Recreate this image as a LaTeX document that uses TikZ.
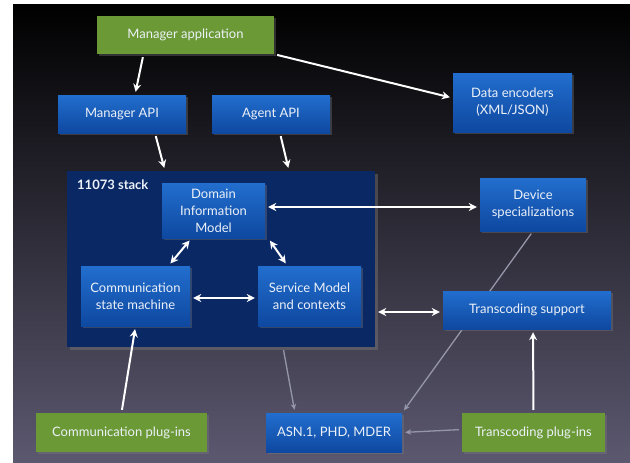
\documentclass[tikz,border=0pt]{standalone}
\usepackage{fontspec}
\setmainfont{Lato}
\usetikzlibrary{arrows.meta,backgrounds,shadows}

\definecolor{appgreen}{RGB}{107,153,54}
\definecolor{boxtop}{RGB}{34,110,206}
\definecolor{boxbot}{RGB}{14,72,160}
\definecolor{stackblue}{RGB}{10,40,100}
\definecolor{slidemid}{RGB}{20,20,44}
\definecolor{slidebot}{RGB}{92,88,112}
\definecolor{greyline}{RGB}{150,150,170}
\definecolor{labelwhite}{RGB}{236,241,248}

\tikzset{
  box/.style = {rectangle, text = labelwhite, align = center, inner sep = 0pt,
    font = \fontsize{13}{17}\selectfont, drop shadow = {opacity = 0.35, shadow xshift = 1.5pt, shadow yshift = -1.5pt}},
  bluebox/.style = {box, top color = boxtop, bottom color = boxbot},
  greenbox/.style = {box, fill = appgreen},
  stackbox/.style = {rectangle, fill = stackblue, drop shadow = {opacity = 0.4}},
  arr/.style = {white, line width = 2pt, -{Stealth[length = 8pt, width = 8pt]}, shorten < = 3pt, shorten > = 3pt},
  dblarr/.style = {arr, {Stealth[length = 8pt, width = 8pt]}-{Stealth[length = 8pt, width = 8pt]}},
  greyarr/.style = {greyline, line width = 1.3pt, -{Stealth[length = 6pt, width = 5.5pt]}, shorten < = 3pt, shorten > = 3pt}
}

\begin{document}
\begin{tikzpicture}[x = 1pt, y = -1pt]
  \begin{pgfonlayer}{background}
    \fill [white] (0, 0) rectangle (630, 463);
    \shade [top color = black, middle color = slidemid, bottom color = slidebot] (13, 4) rectangle (630, 463);
  \end{pgfonlayer}

  % the stack and what sits in it
  \node [stackbox, minimum width = 308, minimum height = 176] (stack) at (221, 259) {};
  \node [anchor = north west, text = labelwhite, inner sep = 0pt, font = \fontsize{13}{15}\selectfont\bfseries] (stacklabel) at (77, 180) {11073 stack};
  \node [bluebox, minimum width = 103, minimum height = 55] (dim) at (213.5, 210.5) {Domain\\Information\\Model};
  \node [bluebox, minimum width = 109, minimum height = 60] (csm) at (135.5, 296) {Communication\\state machine};
  \node [bluebox, minimum width = 103, minimum height = 60] (smc) at (309.5, 296) {Service Model\\and contexts};

  \node [greenbox, minimum width = 177, minimum height = 38] (mapp) at (185.5, 35) {Manager application};
  \node [bluebox, minimum width = 128, minimum height = 38] (mapi) at (122, 114) {Manager API};
  \node [bluebox, minimum width = 118, minimum height = 38] (aapi) at (271, 114) {Agent API};
  \node [bluebox, minimum width = 119, minimum height = 59] (enc) at (512.5, 102.5) {Data encoders\\(XML/JSON)};
  \node [bluebox, minimum width = 106, minimum height = 53] (dev) at (533, 204.5) {Device\\specializations};
  \node [bluebox, minimum width = 168, minimum height = 38] (tsup) at (527, 310) {Transcoding support};

  \node [greenbox, minimum width = 171, minimum height = 39] (cpl) at (121.5, 432.5) {Communication plug-ins};
  \node [bluebox, minimum width = 136, minimum height = 39] (asn) at (334, 432.5) {ASN.1, PHD, MDER};
  \node [greenbox, minimum width = 143, minimum height = 39] (tpl) at (533.5, 432.5) {Transcoding plug-ins};

  \draw [arr] ([xshift = -42]mapp.south) -- ([xshift = 13]mapi.north);
  \draw [arr] (mapp.south east) -- ([yshift = 4.5]enc.west);
  \draw [arr] ([xshift = 33]mapi.south) -- ([xshift = -56]stack.north);
  \draw [arr] ([xshift = 9]aapi.south) -- ([xshift = 68]stack.north);

  \draw [dblarr] ([yshift = 3.5]dim.east) -- ([yshift = -2.5]dev.west);
  \draw [dblarr] ([xshift = -22]dim.south) -- ([xshift = 33]csm.north);
  \draw [dblarr] ([xshift = 3]dim.south east) -- ([xshift = -22]smc.north);
  \draw [dblarr] ([yshift = -2]csm.east) -- ([yshift = -2]smc.west);
  \draw [dblarr] ([yshift = -53]stack.east) -- ([yshift = -2]tsup.west);

  \draw [arr] (cpl.north) -- (csm.south);
  \draw [arr] (tpl.north) -- ([xshift = 6]tsup.south);

  \draw [greyarr] ([xshift = 62]stack.south) -- ([xshift = -39]asn.north);
  \draw [greyarr] ([yshift = 3]tpl.west) -- (asn.east);
  \begin{pgfonlayer}{background}
    \draw [greyarr] (dev.south) -- (asn.north east);
  \end{pgfonlayer}
\end{tikzpicture}
\end{document}
